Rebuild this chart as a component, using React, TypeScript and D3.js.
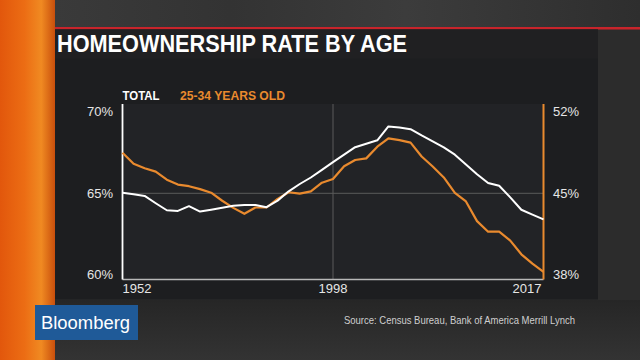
import React from "react";
import * as d3 from "d3";

const years: string[] = ["1952", ...d3.range(1980, 2018).map(String)];
const totalRate: number[] = [
  65.04, 64.94, 64.84, 64.39, 63.96, 63.92, 64.21, 63.88, 63.99, 64.11,
  64.23, 64.28, 64.28, 64.15, 64.55, 65.12, 65.57, 65.97, 66.44, 66.91,
  67.37, 67.83, 68.04, 68.25, 69.1, 69.04, 68.93, 68.55, 68.19, 67.82,
  67.37, 66.77, 66.17, 65.63, 65.46, 64.75, 63.99, 63.69, 63.4,
];
const youngRate: number[] = [
  48.49, 47.53, 47.15, 46.86, 46.17, 45.75, 45.61, 45.36, 45.05, 44.36,
  43.75, 43.24, 43.78, 43.78, 44.52, 45.09, 44.97, 45.17, 45.91, 46.23,
  47.32, 47.86, 48.0, 49.0, 49.71, 49.57, 49.35, 48.16, 47.3, 46.36,
  45.04, 44.3, 42.61, 41.7, 41.7, 40.94, 39.76, 38.96, 38.26,
];
const leftTicks: number[] = [60, 65, 70];
const rightTicks: number[] = [38, 45, 52];
const xTickLabels: string[] = ["1952", "1998", "2017"];

const ORANGE = "#e98a2e";
const FONT = "'Liberation Sans', Arial, Helvetica, sans-serif";

export default function App() {
  const W = 640,
    H = 360;
  const plotL = 122.5,
    plotR = 543.5,
    plotT = 104,
    plotB = 279.5;
  const x = d3.scalePoint<string>().domain(years).range([plotL, plotR]);
  const yL = d3.scaleLinear().domain([60, 70]).range([274.8, 111.8]);
  const yR = d3.scaleLinear().domain([38, 52]).range([274.8, 111.8]);

  const lineTotal = d3
    .line<number>()
    .x((_, i) => x(years[i]) as number)
    .y((d) => yL(d));
  const lineYoung = d3
    .line<number>()
    .x((_, i) => x(years[i]) as number)
    .y((d) => yR(d));

  return (
    <svg
      width={W}
      height={H}
      style={{ position: "absolute", left: 0, top: 0 }}
      fontFamily={FONT}
    >
      <defs>
        <linearGradient id="orangeStrip" x1="0" x2="1" y1="0" y2="0">
          <stop offset="0" stopColor="#e2570c" />
          <stop offset="0.45" stopColor="#ec6d14" />
          <stop offset="0.75" stopColor="#f08a22" />
          <stop offset="1" stopColor="#c94f0c" />
        </linearGradient>
        <linearGradient id="topBg" x1="0" x2="1" y1="0" y2="0">
          <stop offset="0" stopColor="#3a3a3a" />
          <stop offset="0.3" stopColor="#333333" />
          <stop offset="0.6" stopColor="#3c3c3c" />
          <stop offset="1" stopColor="#2e2e2e" />
        </linearGradient>
        <linearGradient id="bottomBg" x1="0" x2="0" y1="0" y2="1">
          <stop offset="0" stopColor="#262626" />
          <stop offset="1" stopColor="#333333" />
        </linearGradient>
      </defs>

      {/* backgrounds */}
      <rect x={0} y={0} width={W} height={H} fill="#2c2c2c" />
      <rect x={55} y={0} width={W - 55} height={28} fill="url(#topBg)" />
      <rect x={55} y={300} width={W - 55} height={60} fill="url(#bottomBg)" />
      <rect x={0} y={0} width={55} height={H} fill="url(#orangeStrip)" />
      <rect x={55} y={27} width={W - 55} height={2.5} fill="#c8242b" />

      {/* panel */}
      <rect x={55} y={29.5} width={543} height={270} fill="#1d1e20" />
      <rect x={55} y={29.5} width={543} height={29} fill="#202022" />

      {/* title */}
      <text
        x={57}
        y={52}
        fontSize={23}
        fontWeight="bold"
        fill="#ffffff"
        textLength={350}
        lengthAdjust="spacingAndGlyphs"
      >
        HOMEOWNERSHIP RATE BY AGE
      </text>

      {/* plot area */}
      <rect
        x={plotL}
        y={plotT}
        width={plotR - plotL}
        height={plotB - plotT}
        fill="#222326"
      />

      {/* gridlines */}
      <line
        x1={plotL}
        x2={plotR}
        y1={yL(65)}
        y2={yL(65)}
        stroke="#5a5a5a"
        strokeWidth={1}
      />
      <line
        x1={x("1998")}
        x2={x("1998")}
        y1={plotT}
        y2={plotB}
        stroke="#5a5a5a"
        strokeWidth={1}
      />

      {/* axes lines */}
      <line
        x1={plotL}
        x2={plotR}
        y1={plotB}
        y2={plotB}
        stroke="#b8b8b8"
        strokeWidth={1.5}
      />
      <line
        x1={plotL}
        x2={plotL}
        y1={plotT}
        y2={plotB}
        stroke="#ffffff"
        strokeWidth={1.8}
      />
      <line
        x1={plotR}
        x2={plotR}
        y1={plotT}
        y2={plotB}
        stroke={ORANGE}
        strokeWidth={2}
      />

      {/* series */}
      <path
        d={lineYoung(youngRate) || ""}
        fill="none"
        stroke={ORANGE}
        strokeWidth={2.2}
        strokeLinejoin="round"
      />
      <path
        d={lineTotal(totalRate) || ""}
        fill="none"
        stroke="#ffffff"
        strokeWidth={2}
        strokeLinejoin="round"
      />

      {/* left ticks */}
      {leftTicks.map((t) => (
        <text
          key={"l" + t}
          x={113}
          y={yL(t)}
          dy="0.36em"
          textAnchor="end"
          fontSize={13}
          fill="#e6e6e6"
        >
          {t}%
        </text>
      ))}
      {/* right ticks */}
      {rightTicks.map((t) => (
        <text
          key={"r" + t}
          x={553}
          y={yR(t)}
          dy="0.36em"
          textAnchor="start"
          fontSize={13}
          fill="#e6e6e6"
        >
          {t}%
        </text>
      ))}
      {/* x ticks */}
      {xTickLabels.map((t, i) => (
        <text
          key={"x" + t}
          x={i === 0 ? plotL : i === xTickLabels.length - 1 ? plotR - 2 : x(t)}
          y={293}
          textAnchor={i === 0 ? "start" : i === xTickLabels.length - 1 ? "end" : "middle"}
          fontSize={13}
          fill="#e6e6e6"
        >
          {t}
        </text>
      ))}

      {/* legend */}
      <text
        x={122.5}
        y={99.5}
        fontSize={12.5}
        fontWeight="bold"
        fill="#ffffff"
        textLength={37}
        lengthAdjust="spacingAndGlyphs"
      >
        TOTAL
      </text>
      <text
        x={180}
        y={99.5}
        fontSize={12.5}
        fontWeight="bold"
        fill={ORANGE}
        textLength={105}
        lengthAdjust="spacingAndGlyphs"
      >
        25-34 YEARS OLD
      </text>

      {/* bloomberg logo */}
      <rect x={35} y={305} width={103} height={35} fill="#1f5a98" />
      <text
        x={41}
        y={329}
        fontSize={18}
        fill="#ffffff"
        textLength={89}
        lengthAdjust="spacingAndGlyphs"
      >
        Bloomberg
      </text>

      {/* source */}
      <text
        x={344}
        y={323.5}
        fontSize={10.5}
        fill="#cfcfcf"
        textLength={231}
        lengthAdjust="spacingAndGlyphs"
      >
        Source: Census Bureau, Bank of America Merrill Lynch
      </text>
    </svg>
  );
}
